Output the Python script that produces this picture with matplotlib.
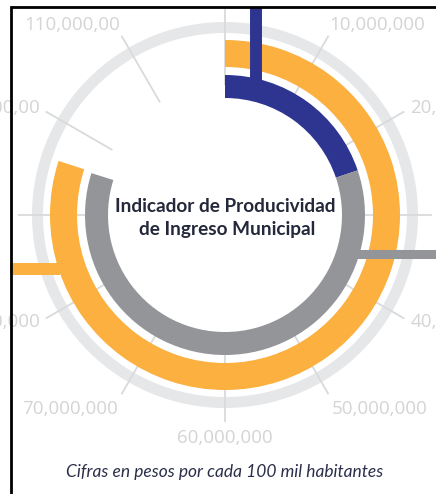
import numpy as np
import matplotlib
matplotlib.use("Agg")
import matplotlib.pyplot as plt

# ---------------- data ----------------
FULL_SCALE = 120_000_000
tick_values = [0, 10_000_000, 20_000_000, 30_000_000, 40_000_000, 50_000_000,
               60_000_000, 70_000_000, 80_000_000, 90_000_000, 100_000_000, 110_000_000]
tick_labels = ["", "10,000,000", "20,000,000", "30,000,000", "40,000,000", "50,000,000",
               "60,000,000", "70,000,000", "80,000,000", "90,000,000", "100,000,00", "110,000,00"]
orange_value = 96_000_000          # outer ring
inner_values = [23_800_000, 72_000_000]   # inner ring: navy + gray (stacked)

title_lines = ["Indicador de Producividad", "de Ingreso Municipal"]
caption = "Cifras en pesos por cada 100 mil habitantes"

# ---------------- style ----------------
C_TRACK = "#e6e7e8"
C_TICK = "#d9dadc"
C_LABEL = "#d3d4d6"
C_ORANGE = "#fbb040"
C_NAVY = "#2e3591"
C_GRAY = "#939598"
C_TITLE = "#24283a"
C_CAPTION = "#2b2e4a"

W, H = 436, 494
fig = plt.figure(figsize=(W / 100, H / 100), dpi=100)
fig.patch.set_facecolor("white")

cx, cy, R = 225, 215, 260
axp = fig.add_axes([(cx - R) / W, (H - cy - R) / H, 2 * R / W, 2 * R / H],
                   projection="polar")
axp.set_theta_zero_location("N")
axp.set_theta_direction(-1)
axp.set_axis_off()


def ang(v):
    return 2 * np.pi * v / FULL_SCALE


# background track
axp.bar(0, 11, width=2 * np.pi, bottom=182, align="edge", color=C_TRACK,
        linewidth=0, zorder=1)

# ticks
for v in tick_values:
    axp.plot([ang(v), ang(v)], [130, 207], color=C_TICK, lw=1.3,
             solid_capstyle="butt", zorder=1.5)

# outer ring
axp.bar(0, 27, width=ang(orange_value), bottom=148, align="edge",
        color=C_ORANGE, linewidth=0, zorder=2)

# inner ring stacked
start = 0
for val, col in zip(inner_values, [C_NAVY, C_GRAY]):
    axp.bar(ang(start), 23, width=ang(val), bottom=117, align="edge",
            color=col, linewidth=0, zorder=2)
    start += val

# tick labels
for v, lab in zip(tick_values, tick_labels):
    if not lab:
        continue
    th = ang(v)
    s, c = np.sin(th), np.cos(th)
    ha = "left" if s > 0.05 else ("right" if s < -0.05 else "center")
    va = "bottom" if c > 0.7 else ("top" if c < -0.7 else "center")
    if abs(s) > 0.99:
        r_lab = 232
    elif c > 0.7:
        r_lab = 209
    else:
        r_lab = 214
    axp.text(th, r_lab, lab, ha=ha, va=va, color=C_LABEL, fontsize=13.5,
             family="Open Sans", zorder=3)

axp.set_ylim(0, R)

# ---------------- overlay (frame, leaders, text) ----------------
ax0 = fig.add_axes([0, 0, 1, 1], zorder=5)
ax0.set_xlim(0, W)
ax0.set_ylim(H, 0)
ax0.axis("off")
ax0.patch.set_alpha(0)

# leader lines
ax0.plot([256, 256], [7, 82], color=C_NAVY, lw=8.6, solid_capstyle="butt")
ax0.plot([10, 60], [269, 269], color=C_ORANGE, lw=8.6, solid_capstyle="butt")
ax0.plot([356, W], [253.5, 253.5], color=C_GRAY, lw=6.5, solid_capstyle="butt")

# frame
ax0.plot([10.5, 10.5, W], [H, 7, 7], color="black", lw=2.0,
         solid_joinstyle="miter")

# title
ax0.text(225, 212, title_lines[0], ha="center", va="baseline", fontsize=13.7,
         fontweight="bold", family="Lato", color=C_TITLE)
ax0.text(227, 235, title_lines[1], ha="center", va="baseline", fontsize=13.7,
         fontweight="bold", family="Lato", color=C_TITLE)

# caption
ax0.text(225, 472, caption, ha="center", va="center", fontsize=12.5,
         style="italic", family="Lato", color=C_CAPTION)

fig.savefig("out.png", dpi=100)
